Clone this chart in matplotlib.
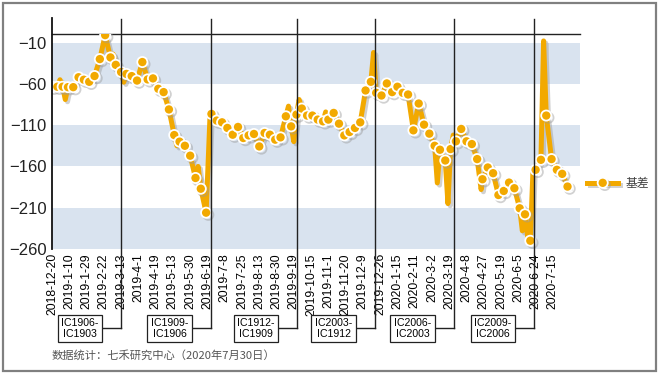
# IC basis chart with contract roll annotations

import matplotlib.pyplot as plt
import matplotlib.patheffects as pe
from matplotlib.patches import Rectangle

plt.rcParams['font.family'] = ['Liberation Sans', 'Noto Sans CJK SC', 'DejaVu Sans']

# trading-day index (from 2018-12-20) and basis value
day_idx = [0, 4, 6, 8, 10, 12, 16, 20, 24, 28, 32, 36, 40, 44, 46, 48, 52, 54, 56, 60,
           64, 68, 72, 76, 80, 84, 88, 92, 94, 96, 100, 104, 108, 110, 112, 116, 119, 120,
           124, 128, 132, 136, 140, 144, 148, 152, 156, 160, 164, 168, 172, 176, 178, 180,
           182, 184, 186, 188, 192, 196, 200, 204, 206, 208, 212, 216, 220, 224, 228, 232,
           236, 240, 242, 244, 248, 252, 256, 260, 264, 268, 272, 276, 280, 284, 288, 290,
           292, 296, 298, 300, 302, 304, 308, 312, 316, 320, 323, 324, 328, 332, 336, 340,
           344, 348, 352, 354, 356, 358, 360, 362, 364, 368, 370, 372, 376, 380, 384, 388]
basis = [-63.5, -63.5, -55, -63.5, -79, -64, -64, -52, -55, -57.5, -50.5, -30, -1, -28, -24,
         -37, -45.7, -58, -48, -50.6, -56, -33.6, -54.6, -53.4, -66, -70, -91, -122, -135,
         -130, -135, -147, -174, -160, -187, -216, -96, -96.4, -104.5, -106.6, -113.4,
         -121.6, -112.2, -125.6, -122.4, -120.7, -135.8, -119.5, -121.6, -127.6, -124.8,
         -99.3, -87, -111.5, -130, -97.2, -79, -89.9, -98.4, -98.4, -103.3, -105.4, -94,
         -103.3, -95.2, -108.2, -122.4, -118.3, -113.4, -106.6, -68, -57.5, -22, -70.9,
         -74.1, -59.5, -70, -63.5, -70.9, -72.9, -116.3, -83.8, -109.4, -120.3, -135, -180,
         -139.8, -152.8, -205, -139, -122, -129.6, -114.6, -129.6, -132.9, -151.1, -188,
         -175.5, -161.3, -168.2, -194.6, -189.7, -179.6, -186.4, -210.7, -238, -218, -245,
         -250, -165, -164.1, -152, -8, -98.4, -151.1, -164.1, -169, -184.4]

tick_labels = ['2018-12-20', '2019-1-10', '2019-1-29', '2019-2-22', '2019-3-13', '2019-4-1',
               '2019-4-19', '2019-5-13', '2019-5-30', '2019-6-19', '2019-7-8', '2019-7-25',
               '2019-8-13', '2019-8-30', '2019-9-19', '2019-10-15', '2019-11-1', '2019-11-20',
               '2019-12-9', '2019-12-26', '2020-1-15', '2020-2-11', '2020-3-2', '2020-3-19',
               '2020-4-8', '2020-4-27', '2020-5-19', '2020-6-5', '2020-6-24', '2020-7-15']

# contract roll positions (trading-day index) and labels
roll_idx = [52, 119.5, 184.5, 243, 302.5, 363]
roll_labels = ['IC1906-\nIC1903', 'IC1909-\nIC1906', 'IC1912-\nIC1909',
               'IC2003-\nIC1912', 'IC2006-\nIC2003', 'IC2009-\nIC2006']

orange = '#F2A900'

fig = plt.figure(figsize=(6.61, 3.74), dpi=100)
ax = fig.add_axes([52 / 661, 1 - 249 / 374, 528 / 661, 214.7 / 374])

# background bands
for lo in (-260, -160, -60):
    ax.axhspan(lo, lo + 50, color='#D9E3EF', lw=0, zorder=0)

mark_pos = [k for k, d in enumerate(day_idx) if d % 4 == 0]
ax.plot(day_idx, basis, color=orange, lw=3.6, marker='o', markevery=mark_pos,
        markersize=7.3, markerfacecolor=orange, markeredgecolor='white', markeredgewidth=1.3,
        solid_joinstyle='round', label='基差', zorder=3,
        path_effects=[pe.SimpleLineShadow(offset=(1.6, -1.6), shadow_color='#9a9a9a', alpha=0.45),
                      pe.Normal()])

ax.set_xlim(0, 397.4)
ax.set_ylim(-260, 0)
ax.set_yticks(range(-260, 0, 50))
ax.set_xticks(range(0, 13 * len(tick_labels), 13))
ax.set_xticklabels(tick_labels, rotation=90, fontsize=8.7)
ax.tick_params(axis='x', length=0, pad=3)
ax.tick_params(axis='y', length=0, pad=4, labelsize=12, labelcolor='#222222')
for s in ('right', 'bottom', 'left'):
    ax.spines[s].set_visible(False)
ax.spines['top'].set_color('#222222')
ax.spines['top'].set_linewidth(1.0)

# left axis line extends above the plot
ax.axvline(0, ymin=0, ymax=1.076, color='#111111', lw=1.3, clip_on=False, zorder=4)

# roll markers with label boxes
for x, lab in zip(roll_idx, roll_labels):
    ax.axvline(x, ymin=-0.37, ymax=1.07, color='#222222', lw=1.0, clip_on=False, zorder=4)
    bx = x - 31
    ax.plot([bx, x], [-0.37, -0.37], transform=ax.get_xaxis_transform(),
            color='#222222', lw=1.0, clip_on=False, zorder=4)
    ax.text(bx, -0.37, lab, transform=ax.get_xaxis_transform(), ha='center', va='center',
            fontsize=7.6, linespacing=1.05, zorder=5,
            bbox=dict(boxstyle='square,pad=0.35', fc='white', ec='#222222', lw=0.9))

leg = ax.legend(loc='center left', bbox_to_anchor=(1.005, 0.303), frameon=False,
                handlelength=2.6, handletextpad=0.6, borderaxespad=0, fontsize=8.5)
for t in leg.get_texts():
    t.set_color('#404040')

fig.text(52 / 661, 1 - 355 / 374, '数据统计：七禾研究中心（2020年7月30日）',
         fontsize=8.1, color='#555555', va='center', ha='left',
         family=['Noto Sans CJK SC', 'DejaVu Sans'])

# outer frame
fig.patches.append(Rectangle((3 / 661, 3 / 374), 653 / 661, 368 / 374, transform=fig.transFigure,
                             fill=False, ec='#808080', lw=1.6))

fig.savefig('out.png', dpi=100)
